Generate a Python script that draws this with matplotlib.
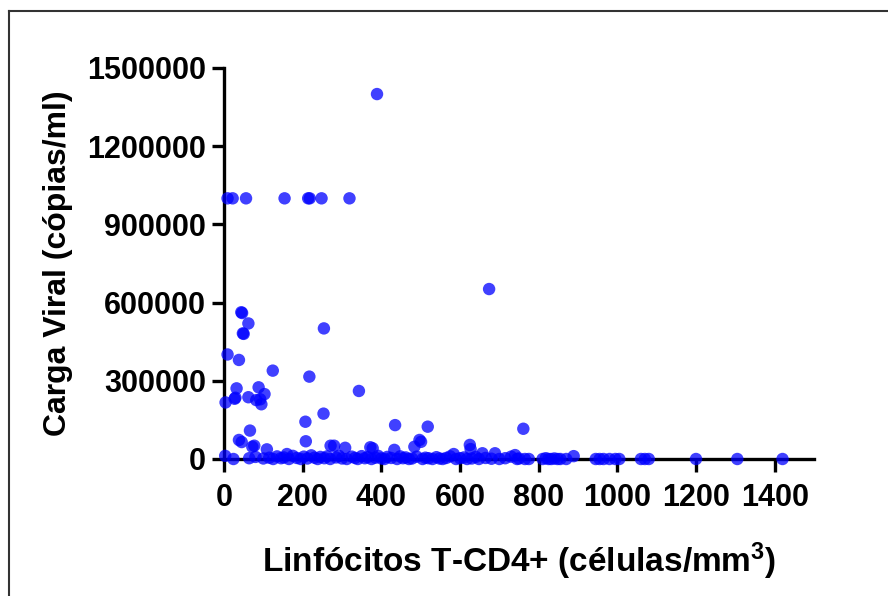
import matplotlib
matplotlib.use('Agg')
import matplotlib.pyplot as plt
from matplotlib.lines import Line2D

plt.rcParams['font.family'] = ['Liberation Sans', 'DejaVu Sans']
plt.rcParams['font.weight'] = 'bold'
plt.rcParams['mathtext.fontset'] = 'custom'
plt.rcParams['mathtext.rm'] = 'Liberation Sans:bold'
plt.rcParams['mathtext.bf'] = 'Liberation Sans:bold'
plt.rcParams['mathtext.default'] = 'bf'

# pacientes com carga viral alta
cd4_alta = [9, 22, 56, 154, 214, 218, 248, 319, 389, 674,
            44, 46, 62, 48, 50, 254, 9, 38, 124, 217,
            32, 88, 103, 27, 29, 4, 62, 82, 95, 92,
            343, 207, 253, 435, 518, 761, 66, 208, 38, 45,
            72, 77, 109, 271, 280, 308, 372, 378, 433, 484,
            497, 501, 625, 627, 657, 689, 740, 584, 160, 889]
cv_alta = [1000000, 1000000, 1000000, 1000000, 1000000, 1000000, 1000000, 1000000, 1400000, 652000,
           563000, 560000, 520000, 482000, 480000, 501000, 401000, 380000, 339000, 316000,
           271000, 275000, 249000, 231000, 235000, 217000, 237000, 226000, 210000, 229000,
           261000, 143000, 174000, 130000, 124000, 116000, 109000, 68000, 73000, 65000,
           47000, 51000, 37000, 51000, 51000, 43000, 45000, 41000, 35000, 47000,
           73000, 66000, 54000, 38000, 22000, 22000, 15000, 19000, 19000, 11000]

# pacientes com carga viral baixa / indetectavel
cd4_baixa = [3, 24, 64, 80, 100, 115, 125, 135, 145, 152, 165, 175, 185, 195, 203,
             212, 222, 230, 238, 245, 255, 262, 270, 285, 292, 300, 312, 325, 333, 340,
             350, 358, 365, 375, 385, 392, 400, 408, 415, 425, 440, 448, 455, 462, 470,
             478, 490, 505, 512, 520, 530, 540, 548, 556, 565, 575, 590, 600, 610, 618,
             630, 640, 648, 665, 680, 700, 715, 730, 745, 750, 765, 775, 810, 818, 825,
             832, 840, 848, 855, 870, 945, 955, 965, 980, 995, 1005, 1060, 1070, 1080,
             1200, 1305, 1420]
cv_baixa = [12000, 0, 3000, 8000, 2000, 5000, 0, 10000, 3000, 6000, 0, 12000, 4000, 0, 9000,
            2000, 14000, 5000, 0, 8000, 3000, 10000, 0, 6000, 12000, 2000, 0, 9000, 4000, 0,
            11000, 3000, 7000, 0, 5000, 12000, 2000, 0, 8000, 4000, 0, 10000, 3000, 6000, 0,
            2000, 9000, 0, 5000, 3000, 0, 7000, 2000, 0, 4000, 10000, 0, 3000, 6000, 0,
            2000, 8000, 0, 4000, 1000, 0, 3000, 9000, 0, 2000, 0, 0, 0, 3000, 0,
            0, 2000, 0, 0, 0, 0, 0, 0, 0, 0, 0, 0, 0, 0,
            0, 0, 0]

x_ticks = [0, 200, 400, 600, 800, 1000, 1200, 1400]
y_ticks = [0, 300000, 600000, 900000, 1200000, 1500000]

fig = plt.figure(figsize=(8.88, 5.96), dpi=100)
ax = fig.add_axes([224 / 888, 1 - 459 / 596, (814 - 224) / 888, (459 - 68) / 596])

cor = (0, 0, 1, 0.75)
ax.scatter(cd4_alta + cd4_baixa, cv_alta + cv_baixa, s=80, color=cor,
           edgecolors='none', clip_on=False, zorder=3)

ax.set_xlim(0, 1500)
ax.set_ylim(0, 1500000)
ax.set_xticks(x_ticks)
ax.set_yticks(y_ticks)
ax.set_xticklabels([str(t) for t in x_ticks])
ax.set_yticklabels([str(t) for t in y_ticks])

for lado in ['top', 'right']:
    ax.spines[lado].set_visible(False)
for lado in ['left', 'bottom']:
    ax.spines[lado].set_linewidth(2.4)
ax.tick_params(axis='both', length=9, width=2.4, labelsize=22)
ax.tick_params(axis='x', pad=8)
ax.tick_params(axis='y', pad=4)

ax.set_xlabel(r'Linfócitos T-CD4+ (células/mm$^{3}$)', fontsize=24, fontweight='bold', labelpad=20)
ax.set_ylabel('Carga Viral (cópias/ml)', fontsize=23, fontweight='bold', labelpad=10)

# moldura
fig.add_artist(Line2D([9 / 888, 9 / 888], [1 - 11 / 596, 0], color='#333333', lw=1.5))
fig.add_artist(Line2D([9 / 888, 1], [1 - 11 / 596, 1 - 11 / 596], color='#333333', lw=1.5))

fig.savefig('out.png', dpi=100)
